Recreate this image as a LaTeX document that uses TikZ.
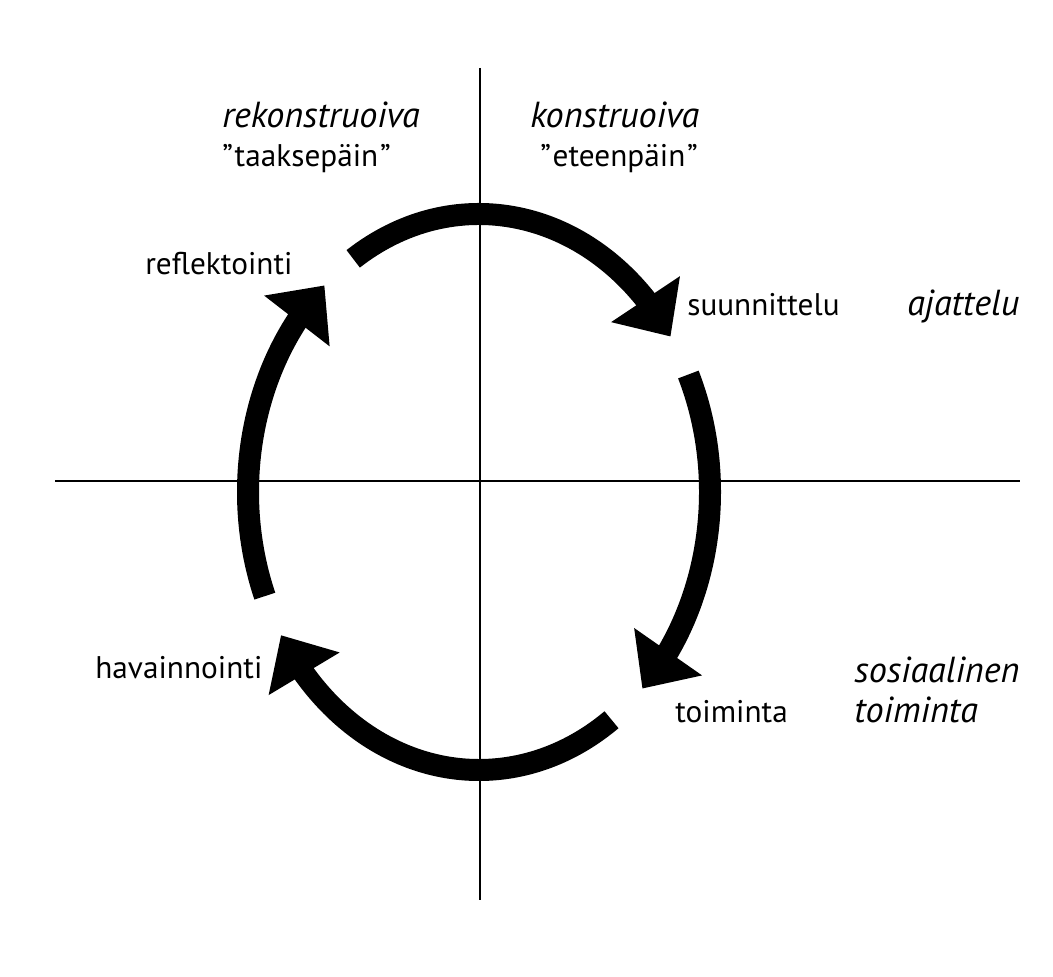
\documentclass[tikz,border=0pt]{standalone}
\usepackage{fontspec}
\setmainfont{PT Sans}
\usetikzlibrary{arrows.meta,bending}

\tikzset{
  kierto/.style={line width=0.44cm, -{Triangle[width=1.6cm, length=0.9cm, flex]}},
  akseli/.style={line width=1.1pt},
  teksti/.style={anchor=base west, inner sep=0pt, font=\fontsize{17.8}{20}\selectfont},
  otsikko/.style={anchor=base west, inner sep=0pt, align=left, font=\fontsize{20.6}{22.7}\selectfont\itshape},
}

\begin{document}
\begin{tikzpicture}[x=0.02cm, y=-0.02cm]
\useasboundingbox (0,0) rectangle (1053,976);

% --- Akselit ---
\coordinate (ylos) at (480,68);
\coordinate (alas) at (480,900);
\coordinate (vasen) at (55,481);
\coordinate (oikea) at (1020,481);
\draw[akseli] (ylos) -- (alas);
\draw[akseli] (vasen) -- (oikea);

% --- Kehan nuolet ---
\coordinate (keski) at (479,492);
\foreach \a/\b in {-123/-34, -25/45, 55/149, 158/228}{
  \draw[kierto] (keski) ++(\a:231 and 278)
    arc[start angle=\a, end angle=\b, x radius=231, y radius=278];
}

% --- Ylaotsikot ---
\node[otsikko] (rekon) at (222,128) {rekonstruoiva};
\node[teksti] (taakse) at (222,167) {”\kern1pt taaksepäin\kern1pt”};
\node[otsikko] (kons) at (530,128) {konstruoiva};
\node[teksti] (eteen) at (540,167) {”\kern1pt eteenpäin\kern1pt”};

% --- Vaiheet ---
\node[teksti] (reflekt) at (145,275) {reflektointi};
\node[teksti] (suunn) at (687,315) {suunnittelu};
\node[teksti] (havain) at (95,678) {havainnointi};
\node[teksti] (toim) at (675,722) {toiminta};

% --- Oikean reunan otsikot ---
\node[otsikko] (ajatt) at (907,315) {ajattelu};
\node[otsikko] (sosiaal) at (854,722) {sosiaalinen\\toiminta};

\end{tikzpicture}
\end{document}
